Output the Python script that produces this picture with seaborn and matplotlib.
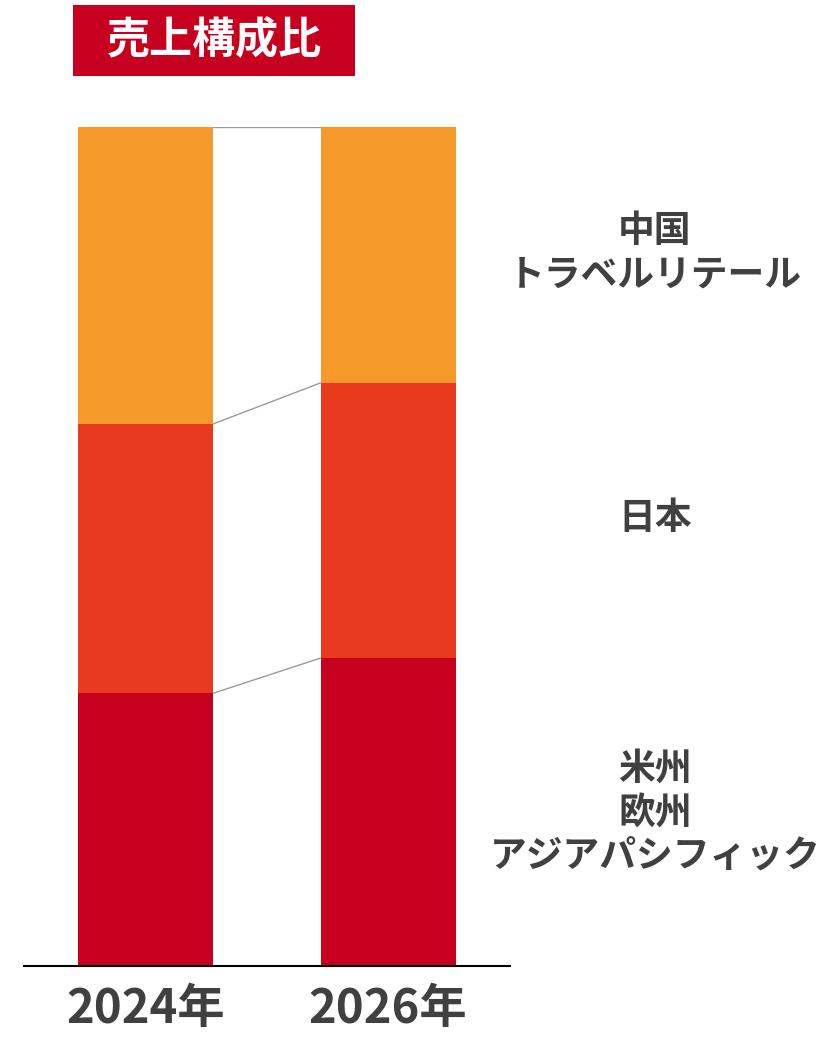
import matplotlib
matplotlib.use("Agg")
import matplotlib.pyplot as plt
import seaborn as sns
import numpy as np
import pandas as pd
from matplotlib.patches import Rectangle

sns.set_theme(style="white")
plt.rcParams['font.family'] = ['Noto Sans CJK JP', 'DejaVu Sans']

years = ["2024年", "2026年"]
segments = ["米州\n欧州\nアジアパシフィック", "日本", "中国\nトラベルリテール"]
americas_europe_apac = [32.5, 36.7]
japan = [32.1, 32.8]
china_tr = [35.4, 30.5]
colors = ["#C8001F", "#E93A20", "#F5992A"]
title = "売上構成比"

layers = [americas_europe_apac, japan, china_tr]
cum = np.cumsum(np.array(layers), axis=0)  # rows: cumulative levels

W, H = 825, 1040
fig = plt.figure(figsize=(W / 100, H / 100), dpi=100)
ax = fig.add_axes([24 / W, (H - 966) / H, (510 - 24) / W, (966 - 127) / H])

width = 135 / 242.5
for i in range(len(layers) - 1, -1, -1):
    df = pd.DataFrame({"year": years, "value": cum[i]})
    sns.barplot(data=df, x="year", y="value", order=years, color=colors[i],
                saturation=1, width=width, ax=ax, zorder=2, linewidth=0,
                edgecolor="none")

# connector lines
for i in range(len(layers)):
    ax.plot([0 + width / 2, 1 - width / 2], [cum[i][0], cum[i][1]],
            color="#9a9a9a", lw=1, zorder=1)

ax.set_xlim(-0.501, 1.503)
ax.set_ylim(0, 100)
ax.set_xlabel("")
ax.set_ylabel("")
ax.set_yticks([])
for s in ["top", "right", "left"]:
    ax.spines[s].set_visible(False)
ax.spines["bottom"].set_color("#000000")
ax.spines["bottom"].set_linewidth(1.5)
ax.tick_params(axis="x", length=0, pad=14, labelsize=34, labelcolor="#404040")
for t in ax.get_xticklabels():
    t.set_fontweight("bold")

# segment labels on right
label_y_px = [813, 518, 253]
for lab, ypx in zip(segments, label_y_px):
    fig.text(655 / W, 1 - ypx / H, lab, ha="center", va="center",
             fontsize=26.5, fontweight="bold", color="#404040", linespacing=1.22)

# title box
fig.patches.append(Rectangle((73 / W, 1 - 76 / H), 282 / W, 71 / H,
                             transform=fig.transFigure, facecolor="#C8001F",
                             edgecolor="none", zorder=0))
fig.text((73 + 141) / W, 1 - 40.5 / H, title, ha="center", va="center",
         fontsize=31, fontweight="bold", color="white")

fig.savefig("out.png", dpi=100)
